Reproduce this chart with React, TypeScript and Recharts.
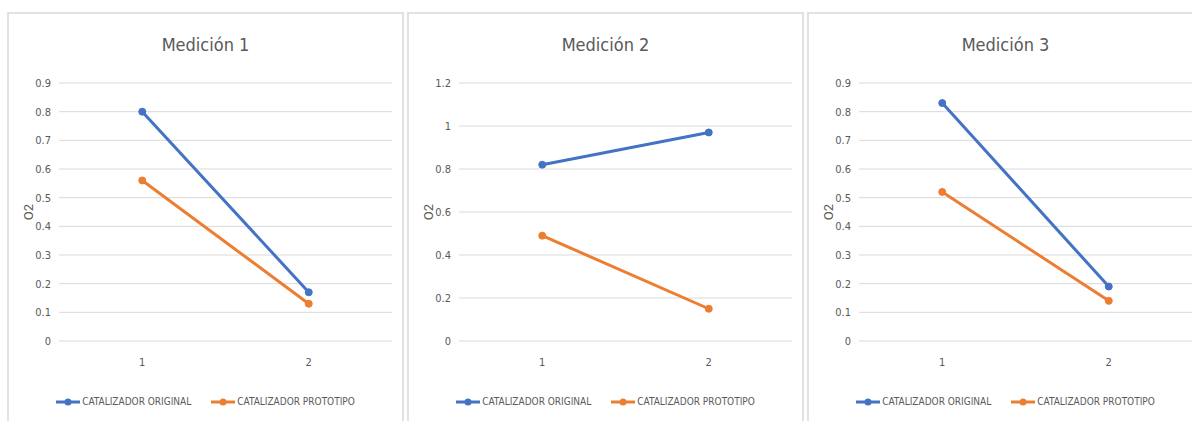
import { LineChart, Line, XAxis, YAxis, CartesianGrid, Legend } from "recharts";

// Measurement number on the x axis
const categories = ["1", "2"];

const seriesNames = ["CATALIZADOR ORIGINAL", "CATALIZADOR PROTOTIPO"];
const seriesColors = ["#4472C4", "#ED7D31"];

const titles = ["Medición 1", "Medición 2", "Medición 3"];

// O2 readings per measurement set
const medicion1Original = [0.8, 0.17];
const medicion1Prototipo = [0.56, 0.13];
const medicion2Original = [0.82, 0.97];
const medicion2Prototipo = [0.49, 0.15];
const medicion3Original = [0.83, 0.19];
const medicion3Prototipo = [0.52, 0.14];

const ticksTenths = [0, 0.1, 0.2, 0.3, 0.4, 0.5, 0.6, 0.7, 0.8, 0.9];
const ticksFifths = [0, 0.2, 0.4, 0.6, 0.8, 1, 1.2];

const NARROW = '"Liberation Sans Narrow", "DejaVu Sans Condensed", "Arial Narrow", sans-serif';
const TEXT = "#595959";
const PANEL_W = 397;
const PANEL_H = 409;

function buildRows(original: number[], prototipo: number[]) {
  return categories.map((c, i) => ({ x: c, original: original[i], prototipo: prototipo[i] }));
}

const panels = [
  { title: titles[0], rows: buildRows(medicion1Original, medicion1Prototipo), ticks: ticksTenths },
  { title: titles[1], rows: buildRows(medicion2Original, medicion2Prototipo), ticks: ticksFifths },
  { title: titles[2], rows: buildRows(medicion3Original, medicion3Prototipo), ticks: ticksTenths },
];

function LegendRow(props: any) {
  const items = props.payload || [];
  return (
    <div
      style={{
        display: "flex",
        justifyContent: "center",
        gap: 20,
        fontFamily: NARROW,
        fontSize: 10,
        color: TEXT,
        lineHeight: "14px",
      }}
    >
      {items.map((it: any) => (
        <span key={it.value} style={{ display: "inline-flex", alignItems: "center" }}>
          <svg width={24} height={10} style={{ marginRight: 2 }}>
            <line x1={0} y1={5} x2={24} y2={5} stroke={it.color} strokeWidth={3} />
            <circle cx={12} cy={5} r={3.5} fill={it.color} />
          </svg>
          {it.value}
        </span>
      ))}
    </div>
  );
}

function Panel({ left, title, rows, ticks }: { left: number; title: string; rows: any[]; ticks: number[] }) {
  const top = ticks[ticks.length - 1];
  return (
    <div style={{ position: "absolute", left, top: 12, width: PANEL_W, height: PANEL_H }}>
      {/* frame runs past the bottom edge, so only three sides show */}
      <div
        style={{
          position: "absolute",
          left: 0,
          top: 0,
          width: PANEL_W,
          height: PANEL_H + 20,
          border: "2px solid #e2e2e2",
          boxSizing: "border-box",
        }}
      />
      <div
        style={{
          position: "absolute",
          top: 21,
          left: 0,
          width: PANEL_W,
          textAlign: "center",
          fontFamily: NARROW,
          fontSize: 18,
          lineHeight: "24px",
          color: TEXT,
        }}
      >
        {title}
      </div>
      <div style={{ position: "absolute", left: 0, top: 0 }}>
        <LineChart
          width={PANEL_W}
          height={PANEL_H}
          data={rows}
          margin={{ top: 71, right: 12, left: 0, bottom: 50 }}
        >
          <CartesianGrid vertical={false} stroke="#d9d9d9" strokeWidth={1} />
          <XAxis
            dataKey="x"
            scale="band"
            axisLine={false}
            tickLine={false}
            height={30}
            tickMargin={11}
            tick={{ fontSize: 11, fill: TEXT, fontFamily: NARROW }}
          />
          <YAxis
            width={52}
            domain={[0, top]}
            ticks={ticks}
            axisLine={false}
            tickLine={false}
            tick={{ fontSize: 11, fill: TEXT, fontFamily: NARROW }}
            label={{
              value: "O2",
              angle: -90,
              position: "insideLeft",
              offset: 21,
              style: { textAnchor: "middle", fontSize: 13, fill: TEXT, fontFamily: "Roboto, sans-serif" },
            }}
          />
          <Legend
            verticalAlign="middle"
            align="center"
            content={<LegendRow />}
            wrapperStyle={{ top: 383, left: 0, width: PANEL_W }}
          />
          <Line
            dataKey="original"
            name={seriesNames[0]}
            stroke={seriesColors[0]}
            strokeWidth={3}
            dot={{ r: 3.5, fill: seriesColors[0], stroke: seriesColors[0], strokeWidth: 1 }}
            isAnimationActive={false}
          />
          <Line
            dataKey="prototipo"
            name={seriesNames[1]}
            stroke={seriesColors[1]}
            strokeWidth={3}
            dot={{ r: 3.5, fill: seriesColors[1], stroke: seriesColors[1], strokeWidth: 1 }}
            isAnimationActive={false}
          />
        </LineChart>
      </div>
    </div>
  );
}

export default function App() {
  return (
    <div
      style={{
        position: "absolute",
        left: 0,
        top: 0,
        width: 1192,
        height: 421,
        overflow: "hidden",
        background: "#ffffff",
      }}
    >
      {panels.map((p, i) => (
        <Panel key={p.title} left={7 + i * 400} title={p.title} rows={p.rows} ticks={p.ticks} />
      ))}
    </div>
  );
}
